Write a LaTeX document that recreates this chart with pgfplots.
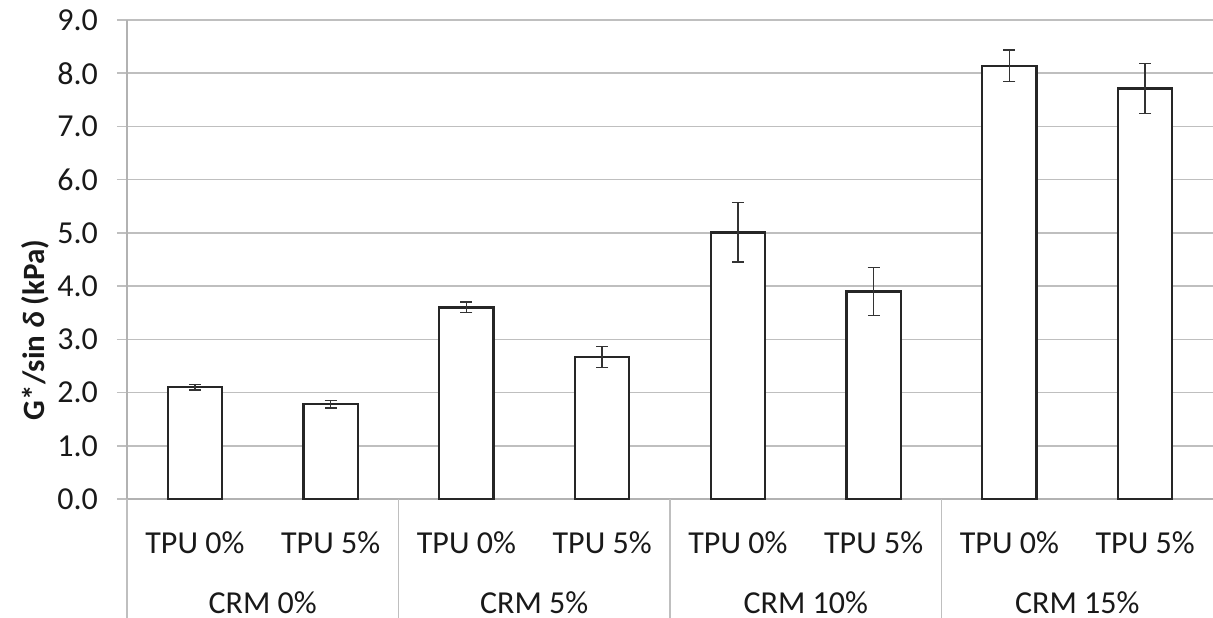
\documentclass[border=0pt]{standalone}
\usepackage{fontspec}
\setmainfont{Carlito}
\setsansfont{Carlito}
\usepackage{pgfplots}
\pgfplotsset{compat=1.18}

\begin{document}
\begin{tikzpicture}
\begin{axis}[
  width=543bp, height=239.5bp, scale only axis,
  xmin=0, xmax=8, ymin=0, ymax=9,
  clip=false,
  axis lines*=left,
  axis line style={gray!60, line width=0.8bp},
  ytick={0,1,...,9},
  ymajorgrids,
  grid style={gray!50, line width=0.8bp},
  tick align=outside,
  major tick length=5bp,
  ytick style={gray!50, line width=0.8bp},
  xtick={0.5,1.5,...,7.5},
  xtick style={draw=none},
  xticklabels={TPU 0\%,TPU 5\%,TPU 0\%,TPU 5\%,TPU 0\%,TPU 5\%,TPU 0\%,TPU 5\%},
  yticklabel={\pgfmathprintnumber[fixed,fixed zerofill,precision=1]{\tick}},
  /pgf/number format/assume math mode=true,
  ticklabel style={font=\fontsize{16bp}{19bp}\selectfont, text=black!90},
  yticklabel style={xshift=-6bp},
  xticklabel style={anchor=base, yshift=-22bp},
  ylabel={\textbf{G*/sin \textit{δ} (kPa)}},
  ylabel style={font=\fontsize{15.5bp}{18bp}\selectfont, text=black!90,
    at={(axis description cs:0,0.353)}, anchor=center, yshift=46bp},
]
% mean G*/sin(delta) with standard deviation for each blend
\addplot[ybar, bar width=0.4, fill=white, draw=black!85, line width=1.2bp,
  error bars/.cd, y dir=both, y explicit,
  error bar style={black!80, line width=0.7bp},
  error mark options={rotate=90, mark size=3bp, line width=0.7bp, black!80}]
  coordinates {
    (0.5,2.10) +- (0,0.05)
    (1.5,1.78) +- (0,0.07)
    (2.5,3.60) +- (0,0.10)
    (3.5,2.67) +- (0,0.20)
    (4.5,5.01) +- (0,0.56)
    (5.5,3.90) +- (0,0.45)
    (6.5,8.14) +- (0,0.30)
    (7.5,7.71) +- (0,0.47)
  };
% group separators below the category axis
\foreach \s in {0,2,4,6} {
  \edef\tmp{\noexpand\draw[gray!50, line width=0.8bp] (axis cs:\s,0) -- ([yshift=-60bp]axis cs:\s,0);}
  \tmp
}
% group names
\foreach \g/\name in {1/CRM 0\%,3/CRM 5\%,5/CRM 10\%,7/CRM 15\%} {
  \edef\tmp{\noexpand\node[anchor=base, font=\noexpand\fontsize{16bp}{19bp}\noexpand\selectfont, text=black!90, inner sep=0pt]
    at ([yshift=-57bp]axis cs:\g,0) {\name};}
  \tmp
}
\coordinate (bl) at (rel axis cs:0,0);
\coordinate (tr) at (rel axis cs:1,1);
\end{axis}
\pgfresetboundingbox
\useasboundingbox ([xshift=-63.5bp,yshift=-59.5bp]bl) rectangle ([yshift=10bp]tr);
\end{tikzpicture}
\end{document}
